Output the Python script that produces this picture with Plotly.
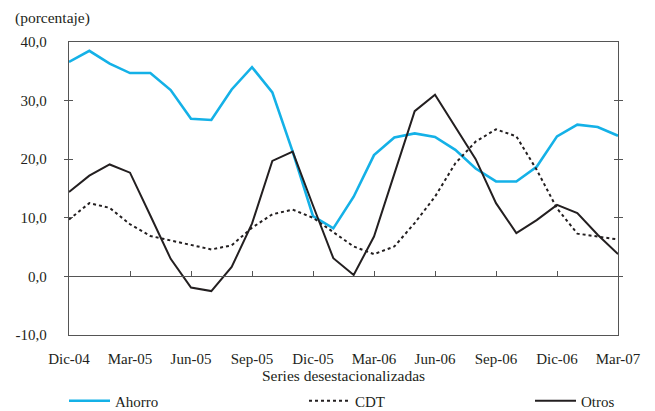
import plotly.graph_objects as go

months = ["Dic-04", "Ene-05", "Feb-05", "Mar-05", "Abr-05", "May-05", "Jun-05", "Jul-05",
          "Ago-05", "Sep-05", "Oct-05", "Nov-05", "Dic-05", "Ene-06", "Feb-06", "Mar-06",
          "Abr-06", "May-06", "Jun-06", "Jul-06", "Ago-06", "Sep-06", "Oct-06", "Nov-06",
          "Dic-06", "Ene-07", "Feb-07", "Mar-07"]

ahorro = [36.6, 38.5, 36.3, 34.7, 34.7, 31.8, 26.9, 26.7, 31.9, 35.7, 31.4, 21.3, 10.3, 8.2,
          13.6, 20.7, 23.7, 24.4, 23.8, 21.6, 18.4, 16.2, 16.2, 18.7, 23.9, 25.9, 25.5, 24.0]
cdt = [9.7, 12.5, 11.7, 8.9, 6.9, 6.1, 5.4, 4.6, 5.3, 8.3, 10.6, 11.4, 10.0, 7.6,
       5.1, 3.8, 5.1, 9.1, 13.6, 19.3, 23.0, 25.1, 23.9, 18.2, 11.6, 7.3, 6.8, 6.3]
otros = [14.4, 17.2, 19.1, 17.7, 10.4, 3.0, -1.9, -2.5, 1.6, 9.0, 19.7, 21.3, 12.1, 3.1,
         0.25, 6.8, 17.5, 28.2, 31.0, 25.6, 20.0, 12.5, 7.4, 9.6, 12.2, 10.8, 7.1, 3.8]

x_ticks = ["Dic-04", "Mar-05", "Jun-05", "Sep-05", "Dic-05", "Mar-06", "Jun-06", "Sep-06",
           "Dic-06", "Mar-07"]
y_ticks = [-10, 0, 10, 20, 30, 40]
y_text = ["-10,0", "0,0", "10,0", "20,0", "30,0", "40,0"]

idx = list(range(len(months)))
tick_idx = [months.index(m) for m in x_ticks]

FONT = "Liberation Serif, Times New Roman, serif"
AX = "#555555"
INK = "#231F20"
W, H = 647, 403  # page body has an 8px margin in the 655x411 window

fig = go.Figure()
fig.add_trace(go.Scatter(x=idx, y=ahorro, mode="lines", name="Ahorro", text=months,
                         line=dict(color="#14B1E7", width=2.6), legend="legend"))
fig.add_trace(go.Scatter(x=idx, y=cdt, mode="lines", name="CDT", text=months,
                         line=dict(color=INK, width=2, dash="dot"), legend="legend2"))
fig.add_trace(go.Scatter(x=idx, y=otros, mode="lines", name="Otros", text=months,
                         line=dict(color=INK, width=2), legend="legend3"))
# invisible helper trace so the zero-line axis with ticks is rendered
fig.add_trace(go.Scatter(x=[idx[0], idx[-1]], y=[0, 0], mode="lines", xaxis="x2",
                         line=dict(color="rgba(0,0,0,0)"), showlegend=False, hoverinfo="skip"))

legend_common = dict(orientation="h", yref="container", xref="container",
                     yanchor="middle", y=(H - 393) / H, xanchor="left",
                     font=dict(family=FONT, size=15, color=INK),
                     bgcolor="rgba(0,0,0,0)", itemwidth=41)

fig.update_layout(
    width=W, height=H,
    margin=dict(l=61, r=37, t=34, b=76),
    paper_bgcolor="white", plot_bgcolor="white",
    font=dict(family=FONT, size=15, color=INK),
    legend=dict(legend_common, x=56 / W),
    legend2=dict(legend_common, x=296 / W),
    legend3=dict(legend_common, x=522 / W),
    xaxis=dict(range=[0, len(months) - 1], tickvals=tick_idx, ticktext=x_ticks,
               showgrid=False, zeroline=False, showline=True, linecolor=AX, linewidth=1.3,
               mirror=True, ticks="", ticklabelstandoff=10, automargin=False,
               tickfont=dict(family=FONT, size=15),
               title=dict(text="Series desestacionalizadas", standoff=8,
                          font=dict(family=FONT, size=15.5))),
    xaxis2=dict(overlaying="x", matches="x", anchor="free", position=0.2, side="bottom",
                tickvals=tick_idx, showticklabels=False, ticks="inside", ticklen=5,
                tickcolor=AX, showline=True, linecolor=AX, linewidth=1.3, showgrid=False,
                zeroline=False, automargin=False),
    yaxis=dict(range=[-10, 40], tickvals=y_ticks, ticktext=y_text, showgrid=False,
               zeroline=False, showline=True, linecolor=AX, linewidth=1.3, mirror="allticks",
               ticks="inside", ticklen=4, tickcolor=AX, ticklabelstandoff=18, automargin=False,
               tickfont=dict(family=FONT, size=15)),
    annotations=[dict(text="(porcentaje)", xref="paper", yref="paper", x=-0.102, y=1.0,
                      yshift=24, xanchor="left", yanchor="middle", showarrow=False,
                      font=dict(family=FONT, size=15.5, color=INK))],
)

fig.write_html("out.html")
